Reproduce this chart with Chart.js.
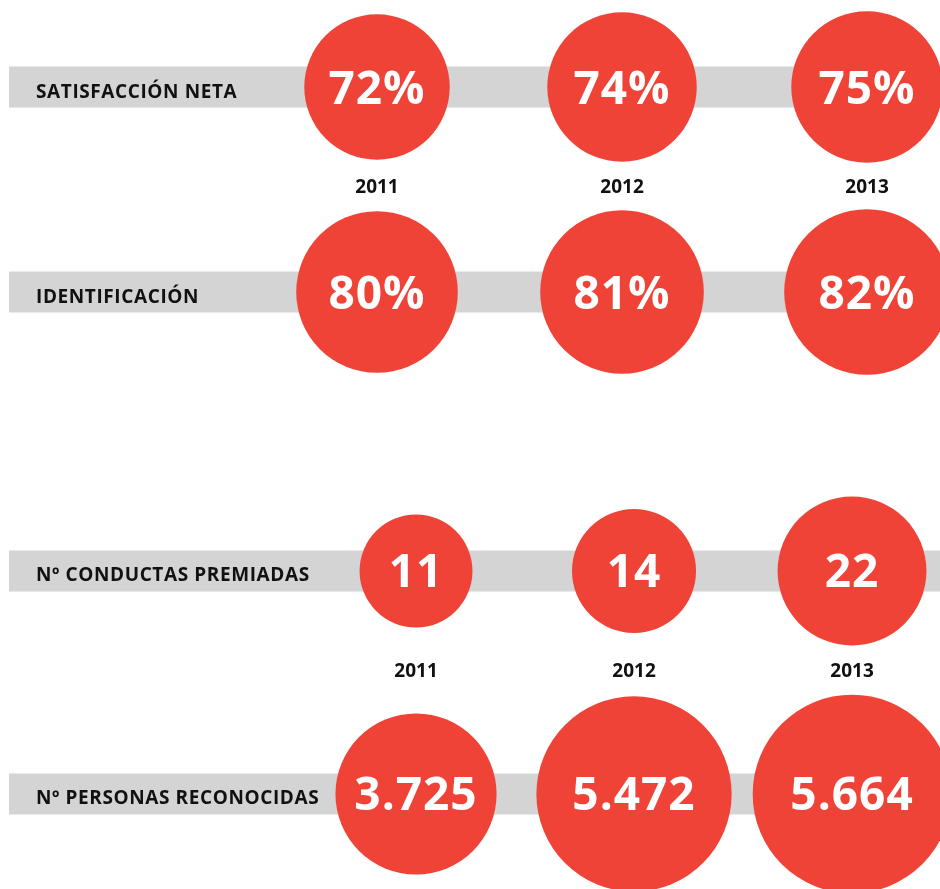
<!DOCTYPE html>
<html>
<head>
<meta charset="utf-8">
<script src="https://cdn.jsdelivr.net/npm/chart.js@4.4.0/dist/chart.umd.min.js"></script>
<style>
  body { margin: 0; background: #fff; }
  canvas { display: block; }
  #wrap { position: relative; width: 940px; height: 889px; overflow: hidden; }
  #top { position: absolute; left: 0; top: 0; }
  #bottom { position: absolute; left: 0; top: 440px; }
</style>
</head>
<body>
<div id="wrap">
  <canvas id="top" width="940" height="440"></canvas>
  <canvas id="bottom" width="940" height="449"></canvas>
</div>
<script>
// data
const years = [2011, 2012, 2013];

const topRows = ['SATISFACCIÓN NETA', 'IDENTIFICACIÓN'];
const satisfaccion = [72, 74, 75];
const identificacion = [80, 81, 82];

const bottomRows = ['Nº CONDUCTAS PREMIADAS', 'Nº PERSONAS RECONOCIDAS'];
const conductas = [11, 14, 22];
const personas = [3725, 5472, 5664];

const RED = '#ef4338';
const GREY = '#d4d4d4';
const FONT = '"Open Sans", "DejaVu Sans", sans-serif';

// circle size per row (pixels), from the value
const pctRadius = v => v * 1.01;
const condRadius = v => 13 + 13.1 * Math.sqrt(v);
const persRadius = v => 1.32 * Math.sqrt(v);

const fmtPct = v => v + '%';
const fmtNum = v => v.toLocaleString('de-DE');

function bubbles(values, row, rad, fmt) {
  return {
    data: values.map((v, i) => ({ x: years[i], y: row, r: rad(v) })),
    labelsText: values.map(fmt),
    backgroundColor: RED,
    hoverBackgroundColor: RED,
    borderWidth: 0,
    hoverBorderWidth: 0,
    clip: false
  };
}

// grey bands + row names under the circles, numbers and years on top
const panelPlugin = {
  id: 'panel',
  beforeDatasetsDraw(chart, args, opts) {
    const ctx = chart.ctx;
    const y = chart.scales.y;
    ctx.save();
    opts.rows.forEach((name, i) => {
      const py = y.getPixelForValue(i);
      ctx.fillStyle = GREY;
      ctx.fillRect(9, py - 20.5, chart.width - 9, 41);
      ctx.fillStyle = '#111';
      ctx.font = 'bold 19px ' + FONT;
      ctx.letterSpacing = '0.6px';
      ctx.textAlign = 'left';
      ctx.textBaseline = 'alphabetic';
      ctx.fillText(name, 36, py + 10.5);
    });
    ctx.restore();
  },
  afterDatasetsDraw(chart, args, opts) {
    const ctx = chart.ctx;
    ctx.save();
    ctx.textAlign = 'center';
    ctx.textBaseline = 'alphabetic';
    chart.data.datasets.forEach((ds, di) => {
      const meta = chart.getDatasetMeta(di);
      meta.data.forEach((el, i) => {
        ctx.fillStyle = '#fff';
        ctx.font = 'bold 46px ' + FONT;
        ctx.letterSpacing = '1px';
        ctx.fillText(ds.labelsText[i], el.x, el.y + 16.5);
      });
    });
    const x = chart.scales.x;
    const yp = chart.scales.y.getPixelForValue(opts.yearPos);
    ctx.fillStyle = '#111';
    ctx.font = 'bold 19px ' + FONT;
    ctx.letterSpacing = '0px';
    years.forEach(yr => {
      ctx.fillText(String(yr), x.getPixelForValue(yr), yp + 6.8);
    });
    ctx.restore();
  }
};

function makeChart(id, datasets, rows, xr, yr, yearPos) {
  return new Chart(document.getElementById(id), {
    type: 'bubble',
    data: { datasets },
    plugins: [panelPlugin],
    options: {
      responsive: false,
      animation: false,
      events: [],
      layout: { padding: 0, autoPadding: false },
      plugins: {
        legend: { display: false },
        tooltip: { enabled: false },
        panel: { rows, yearPos }
      },
      scales: {
        x: { type: 'linear', display: false, min: xr[0], max: xr[1] },
        y: { type: 'linear', display: false, reverse: true, min: yr[0], max: yr[1] }
      }
    }
  });
}

makeChart('top', [
  bubbles(satisfaccion, 0, pctRadius, fmtPct),
  bubbles(identificacion, 1, pctRadius, fmtPct)
], topRows, [2009.4612, 2013.2979], [-0.42439, 1.72195], 0.486);

makeChart('bottom', [
  bubbles(conductas, 0, condRadius, fmtNum),
  bubbles(personas, 1, persRadius, fmtNum)
], bottomRows, [2009.0917, 2013.4036], [-0.58744, 1.42601], 0.444);
</script>
</body>
</html>
